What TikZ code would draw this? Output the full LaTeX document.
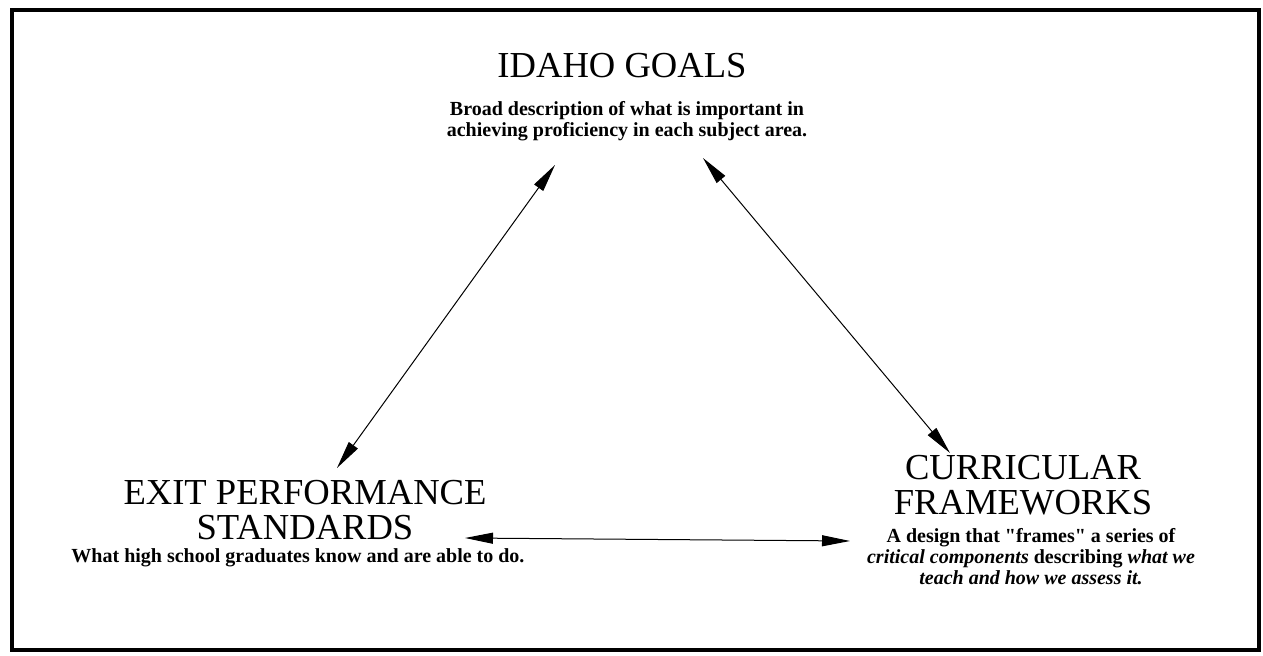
\documentclass[tikz,border=0pt]{standalone}
\usepackage{fontspec}
\setmainfont{Liberation Serif}
\usetikzlibrary{arrows.meta}
\newcommand{\straightq}{{\addfontfeatures{Ligatures=TeXOff}"}}
\tikzset{
  title/.style={anchor=base, align=center, inner sep=0pt, font=\fontsize{18.3}{17.5}\selectfont},
  blurb/.style={anchor=base, align=center, inner sep=0pt, font=\fontsize{10}{10.5}\selectfont\bfseries},
  link/.style={{Triangle[length=14pt,width=5.5pt]}-{Triangle[length=14pt,width=5.5pt]}, line width=0.5pt},
}
\begin{document}
\begin{tikzpicture}[x=0.5pt, y=-0.5pt]
\useasboundingbox (0,0) rectangle (1263,656);
\draw[line width=1.6pt] (12,10) rectangle (1259,650);
\node[title] (goals) at (622,78) {IDAHO GOALS};
\node[blurb] (goalsdesc) at (627,137) {Broad description of what is important in\\achieving proficiency in each subject area.};
\node[title] (exit) at (305,540) {EXIT PERFORMANCE\\STANDARDS};
\node[blurb] (exitdesc) at (298,563) {What high school graduates know and are able to do.};
\node[title] (frames) at (1023,515) {CURRICULAR\\FRAMEWORKS};
\node[blurb] (framesdesc) at (1031,585) {A design that \straightq frames\straightq{} a series of\\\textit{critical components} describing \textit{what we}\\\textit{teach and how we assess it.}};
\coordinate (goalsL) at (555,165);
\coordinate (goalsR) at (703,158);
\coordinate (exitT) at (337,468);
\coordinate (exitR) at (465,538);
\coordinate (framesT) at (950,453);
\coordinate (framesL) at (850,541);
\draw[link] (goalsL) -- (exitT);
\draw[link] (goalsR) -- (framesT);
\draw[link] (exitR) -- (framesL);
\end{tikzpicture}
\end{document}
